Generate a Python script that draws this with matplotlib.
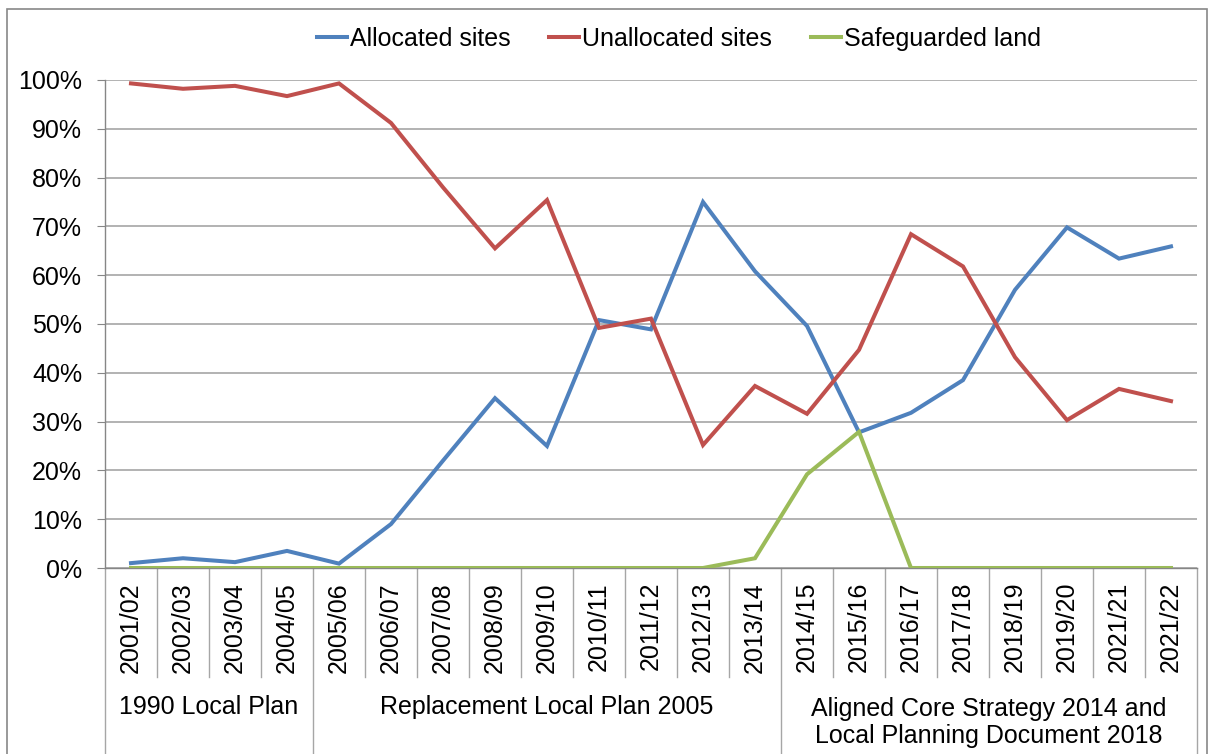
import matplotlib
matplotlib.use("Agg")
import matplotlib.pyplot as plt
import matplotlib.transforms as mtransforms
from matplotlib.patches import Rectangle
from matplotlib.ticker import PercentFormatter
import numpy as np

plt.rcParams["font.family"] = ["Liberation Sans", "DejaVu Sans"]

YEARS = ["2001/02", "2002/03", "2003/04", "2004/05", "2005/06", "2006/07",
         "2007/08", "2008/09", "2009/10", "2010/11", "2011/12", "2012/13",
         "2013/14", "2014/15", "2015/16", "2016/17", "2017/18", "2018/19",
         "2019/20", "2021/21", "2021/22"]

# shares (fraction of completions)
allocated = [0.010, 0.020, 0.012, 0.035, 0.009, 0.090, 0.220, 0.348, 0.250,
             0.508, 0.489, 0.750, 0.608, 0.496, 0.278, 0.318, 0.385, 0.570,
             0.698, 0.634, 0.659]
unallocated = [0.993, 0.982, 0.988, 0.967, 0.993, 0.912, 0.780, 0.655, 0.754,
               0.492, 0.511, 0.252, 0.373, 0.316, 0.447, 0.684, 0.618, 0.432,
               0.303, 0.367, 0.342]
safeguarded = [0.0, 0.0, 0.0, 0.0, 0.0, 0.0, 0.0, 0.0, 0.0, 0.0, 0.0, 0.0,
               0.020, 0.192, 0.279, 0.0, 0.0, 0.0, 0.0, 0.0, 0.0]

GROUPS = ["1990 Local Plan", "Replacement Local Plan 2005",
          "Aligned Core Strategy 2014 and\nLocal Planning Document 2018"]
GROUP_SIZES = [4, 9, 8]

COLORS = {"Allocated sites": "#4F81BD", "Unallocated sites": "#C0504D",
          "Safeguarded land": "#9BBB59"}
FS = 18
GRID = "#A6A6A6"

fig = plt.figure(figsize=(12.09, 7.54), dpi=100)
ax = fig.add_axes([105 / 1209, 1 - 568 / 754, (1197 - 105) / 1209, (568 - 80) / 754])

x = np.arange(len(YEARS))
for name, vals in [("Allocated sites", allocated), ("Unallocated sites", unallocated),
                   ("Safeguarded land", safeguarded)]:
    ax.plot(x, vals, color=COLORS[name], lw=2.9, label=name,
            solid_joinstyle="miter", zorder=3)

ax.set_xlim(-0.5, len(YEARS) - 0.5)
ax.set_ylim(0, 1)
ax.set_yticks(np.arange(0, 1.01, 0.1))
ax.yaxis.set_major_formatter(PercentFormatter(1.0, decimals=0))
ax.grid(axis="y", color=GRID, lw=1.2)
ax.set_axisbelow(True)
for side in ("top", "right"):
    ax.spines[side].set_visible(False)
for side in ("left", "bottom"):
    ax.spines[side].set_color("#868686")
    ax.spines[side].set_linewidth(1.0)
ax.tick_params(axis="y", direction="out", length=6, color="#868686",
               labelsize=FS, pad=10.5)

ax.set_xticks(x)
ax.set_xticklabels(YEARS, rotation=90, fontsize=FS)
ax.tick_params(axis="x", length=0, pad=10)

# separators of the two-level category axis
trans = mtransforms.blended_transform_factory(ax.transData, ax.transAxes)
bounds = np.cumsum([0] + GROUP_SIZES) - 0.5
for b in np.arange(0.5, len(YEARS) - 0.5):
    if b in bounds:
        continue
    ax.plot([b, b], [0, -0.223], transform=trans, color="#A6A6A6", lw=1.0,
            clip_on=False)
for b in bounds:
    ax.plot([b, b], [0, -0.42], transform=trans, color="#A6A6A6", lw=1.0,
            clip_on=False)

for name, lo, hi in zip(GROUPS, bounds[:-1], bounds[1:]):
    y = -0.3166 if "\n" in name else -0.2848
    ax.text((lo + hi) / 2, y, name, transform=trans, ha="center", va="center",
            fontsize=FS, linespacing=1.12)

fig.legend(loc="center", bbox_to_anchor=(679 / 1209, 1 - 39 / 754), ncol=3,
           frameon=False, fontsize=FS, handlelength=1.2, handletextpad=0.12,
           columnspacing=1.55)

# outer chart frame
fig.add_artist(Rectangle((7 / 1209, -0.02), 1200 / 1209, 1.02 - 9 / 754,
                         transform=fig.transFigure, fill=False,
                         edgecolor="#888888", lw=1.2))

fig.savefig("out.png", dpi=100)
